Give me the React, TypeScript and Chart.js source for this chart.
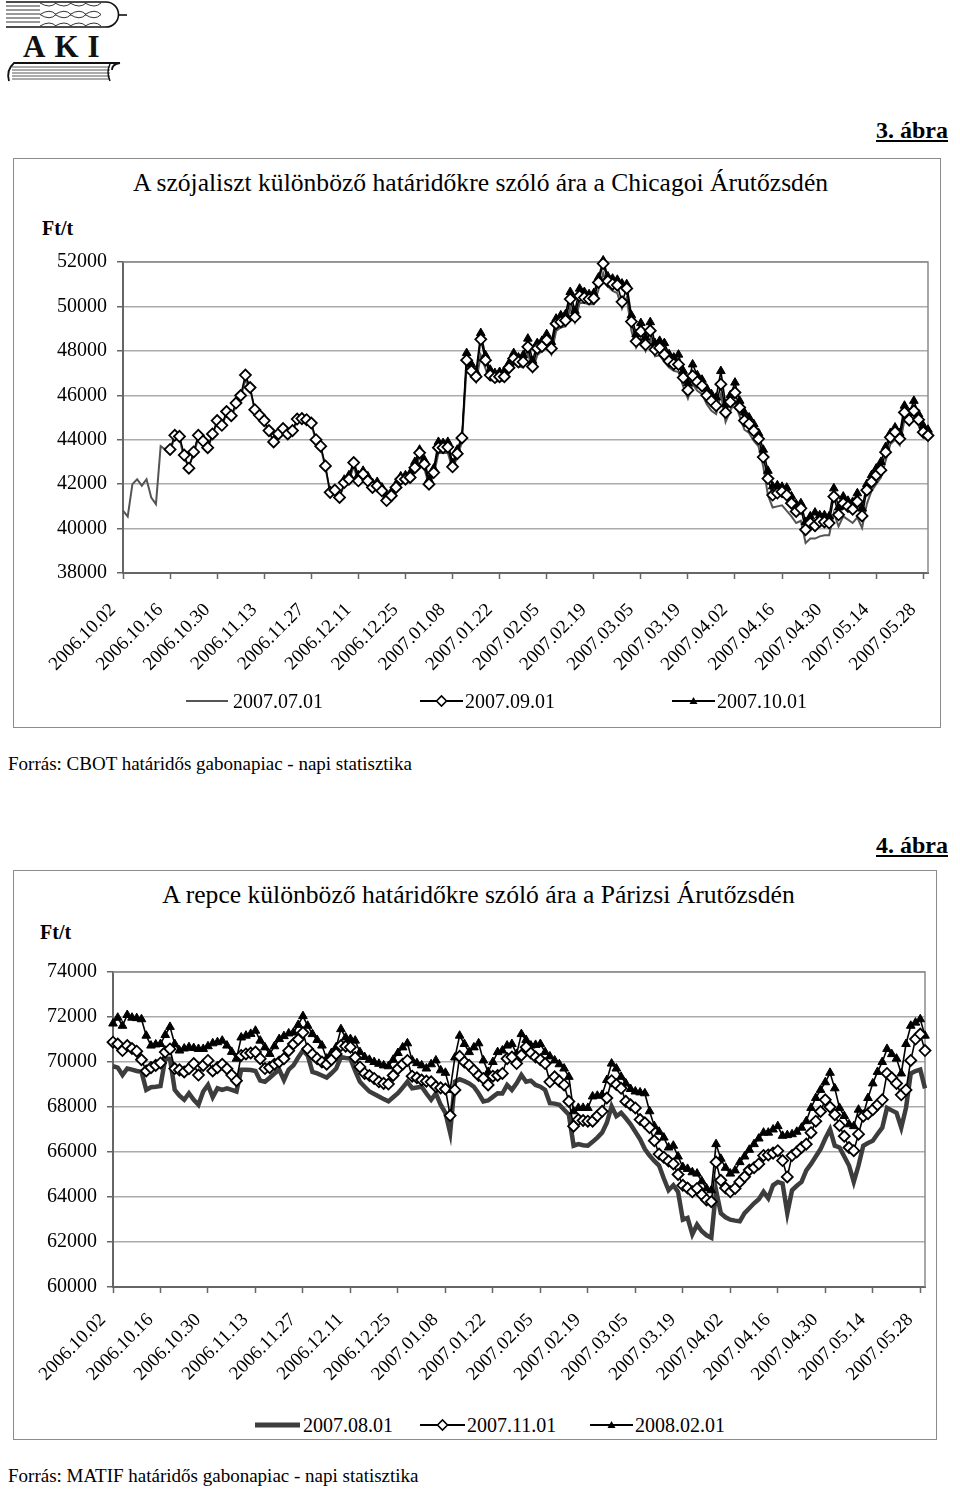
import React, { useEffect, useRef } from 'react';
import { Chart, registerables } from 'chart.js';

Chart.register(...registerables);

const SERIF = "'Liberation Serif', 'Times New Roman', Times, serif";

// ---------------- data ----------------
const TICK_LABELS = [
  '2006.10.02', '2006.10.16', '2006.10.30', '2006.11.13', '2006.11.27', '2006.12.11',
  '2006.12.25', '2007.01.08', '2007.01.22', '2007.02.05', '2007.02.19', '2007.03.05',
  '2007.03.19', '2007.04.02', '2007.04.16', '2007.04.30', '2007.05.14', '2007.05.28',
];
const FIRST_DAY = '2006-10-02';
const N_DAYS = 172;

// Chart 1: soybean meal, CBOT (Ft/t)
const SOY_NAMES = ['2007.07.01', '2007.09.01', '2007.10.01'];
const SOY_0701 = [
  40810, 40540, 42000, 42220, 41930, 42220, 41400, 41100, 43710, 43560,
  43500, 44100, 44100, 43100, 42850, 43300, 44100, 43900, 43600, 44200,
  44800, 44600, 45200, 45000, 45550, 45900, 46700, 46300, 45300, 45050,
  44800, 44350, 43950, 44200, 44450, 44200, 44350, 44850, 44900, 44850,
  44700, 43950, 43650, 42750, 41600, 41650, 41450, 41950, 42150, 42800,
  42100, 42350, 42050, 41800, 41850, 41650, 41300, 41400, 41750, 42100,
  42150, 42200, 42600, 43250, 42700, 41950, 42400, 43400, 43400, 43400,
  42700, 43200, 43900, 47300, 46900, 46600, 47800, 47200, 46700, 46600,
  46650, 46650, 47000, 47400, 47300, 47250, 47900, 47100, 47800, 48000,
  48250, 47850, 48900, 49050, 49100, 49950, 49300, 50150, 50150, 50100,
  50100, 50750, 51500, 50900, 50700, 50600, 49900, 50400, 48900, 48150,
  48550, 48000, 48550, 47750, 47800, 47500, 47250, 47100, 47050, 46400,
  45850, 46500, 46200, 46050, 45600, 45300, 45150, 46050, 44800, 45300,
  45700, 45050, 44450, 44300, 43950, 43700, 42800, 41500, 40950, 41000,
  41050, 40800, 40550, 40250, 40350, 39350, 39550, 39550, 39650, 39700,
  39700, 40700, 40100, 40550, 40400, 40250, 40500, 40030, 41100, 41700,
  42000, 42300, 43050, 43800, 44000, 43750, 44900, 44650, 45000, 44650,
  44100, 44000,
];
const SOY_0901 = [
  null, null, null, null, null, null, null, null, null, null,
  43560, 44200, 44150, 43310, 42720, 43450, 44200, 43940, 43640, 44260,
  44860, 44650, 45270, 45080, 45650, 45990, 46910, 46350, 45350, 45100,
  44860, 44410, 43900, 44260, 44500, 44260, 44410, 44930, 44950, 44900,
  44750, 44000, 43710, 42820, 41630, 41730, 41400, 42070, 42220, 42970,
  42150, 42450, 42150, 41850, 41920, 41700, 41260, 41480, 41850, 42220,
  42220, 42300, 42740, 43410, 42900, 42000, 42520, 43640, 43640, 43670,
  42780, 43370, 44080, 47580, 47100, 46840, 48520, 47580, 46910, 46800,
  46840, 46840, 47240, 47660, 47500, 47500, 48180, 47290, 48110, 48200,
  48480, 48110, 49220, 49300, 49370, 50330, 49520, 50480, 50400, 50330,
  50360, 51080, 51930, 51140, 51000, 50960, 50210, 50810, 49320, 48430,
  48880, 48280, 48910, 48060, 48130, 47830, 47540, 47400, 47390, 46800,
  46230, 46870, 46600, 46420, 46000, 45750, 45530, 46500, 45230, 45700,
  46120, 45450, 44860, 44710, 44400, 44040, 43220, 42250, 41510, 41600,
  41660, 41510, 41140, 40770, 40910, 39950, 40250, 40130, 40320, 40300,
  40250, 41440, 40620, 41140, 41000, 40870, 41210, 40570, 41730, 42100,
  42400, 42630, 43440, 44110, 44340, 44040, 45230, 44890, 45300, 44900,
  44340, 44190,
];
const SOY_1001 = [
  null, null, null, null, null, null, null, null, null, null,
  null, null, null, null, null, null, null, null, null, null,
  null, null, null, null, null, null, null, null, null, null,
  null, null, null, null, null, null, null, null, null, null,
  null, null, null, null, null, null, null, 42200, 42400, 43000,
  42400, 42600, 42350, 42050, 42100, 41850, 41450, 41650, 42000, 42350,
  42400, 42500, 43000, 43550, 43100, 42200, 42700, 43900, 43850, 43900,
  42950, 43550, 44150, 47900, 47400, 47050, 48800, 47800, 47150, 47000,
  47050, 47100, 47450, 47900, 47700, 47800, 48550, 47550, 48350, 48450,
  48750, 48400, 49450, 49600, 49650, 50650, 49800, 50800, 50650, 50550,
  50600, 51300, 52070, 51350, 51250, 51200, 51030, 51000, 49600, 48750,
  49250, 48600, 49290, 48350, 48450, 48350, 47850, 47700, 47830, 47100,
  46550, 47390, 46900, 46700, 46300, 46050, 45900, 47090, 45600, 46000,
  46570, 45750, 45230, 45000, 44700, 44300, 43550, 42600, 41900, 41950,
  41880, 41840, 41450, 41100, 41140, 40300, 40550, 40720, 40600, 40600,
  40550, 41810, 40950, 41440, 41250, 41200, 41590, 40900, 42000, 42400,
  42700, 43000, 43670, 44300, 44550, 44300, 45530, 45200, 45750, 45150,
  44630, 44450,
];

// Chart 2: rapeseed, MATIF (Ft/t)
const RAPE_NAMES = ['2007.08.01', '2007.11.01', '2008.02.01'];
const RAPE_0801 = [
  69810, 69750, 69420, 69710, 69660, 69600, 69560, 68760, 68880, 68900,
  68930, 70150, 70150, 68760, 68500, 68320, 68610, 68320, 68100, 68690,
  68980, 68440, 68830, 68760, 68830, 68760, 68690, 69660, 69660, 69640,
  69600, 69170, 69120, 69300, 69490, 69660, 69200, 69660, 69850, 70200,
  70510, 70290, 69560, 69490, 69400, 69310, 69500, 69710, 70220, 70180,
  70150, 69600, 69120, 68900, 68690, 68580, 68470, 68350, 68250, 68430,
  68610, 68860, 69120, 68830, 68870, 68900, 68600, 68320, 68610, 68100,
  67740, 66860, 69120, 69230, 69150, 69050, 68900, 68600, 68250, 68290,
  68450, 68610, 68600, 68980, 68760, 69050, 69420, 69120, 69170, 68980,
  68900, 68760, 68170, 68150, 68100, 67880, 67660, 66280, 66350, 66300,
  66280, 66450, 66640, 66860, 67300, 68030, 67590, 67740, 67500, 67230,
  66900, 66570, 66130, 65840, 65600, 65400, 64820, 64300, 64520, 64230,
  62990, 63070, 62340, 62770, 62480, 62300, 62190, 64300, 63280, 63100,
  62990, 62950, 62920, 63280, 63500, 63720, 63900, 64230, 63940, 64520,
  64670, 64600, 63280, 64300, 64500, 64670, 65180, 65470, 65800, 66130,
  66600, 67010, 66280, 66200, 65800, 65400, 64670, 65400, 66280, 66400,
  66500, 66800, 67080, 67960, 67850, 67740, 67080, 67960, 69490, 69600,
  69660, 68830,
];
const RAPE_1101 = [
  70880, 70800, 70510, 70730, 70600, 70480, 70100, 69600, 69750, 69850,
  69960, 70440, 70580, 69710, 69650, 69560, 69700, 69930, 69420, 69850,
  70070, 69600, 69750, 69900, 69700, 69420, 69170, 70290, 70360, 70400,
  70440, 70150, 69710, 69750, 69900, 70000, 70150, 70500, 70800, 71000,
  71310, 70580, 70340, 70150, 70000, 69900, 70100, 70360, 70730, 70700,
  70660, 70200, 69780, 69490, 69400, 69270, 69120, 69050, 69020, 69400,
  69700, 69900, 70070, 69370, 69300, 69200, 69150, 69120, 68900, 68850,
  68800, 67620, 68760, 70250, 70000, 69850, 69630, 69400, 69270, 68980,
  69370, 69400, 69490, 70150, 70220, 69930, 70300, 70660, 70400, 70220,
  70100, 69930, 69120, 69340, 69150, 68980, 68250, 67150, 67440, 67400,
  67370, 67370, 67600, 67810, 68400, 69170, 69000, 68830, 68250, 68100,
  67960, 67440, 67300, 67080, 66500, 65910, 65770, 65600, 65470, 65000,
  64520, 64400, 64230, 64380, 64100, 63870, 63790, 65550, 64740, 64400,
  64230, 64380, 64670, 64900, 65200, 65300, 65470, 65840, 65870, 65950,
  66060, 65620, 64890, 65840, 66000, 66200, 66350, 66860, 67370, 67800,
  68320, 68000, 67660, 67180, 66700, 66200, 66060, 66790, 67590, 67700,
  67880, 68100, 68320, 69490, 69300, 69050, 68540, 68760, 70070, 71020,
  71240, 70510,
];
const RAPE_0201 = [
  71710, 71970, 71610, 72090, 71970, 71950, 71900, 71170, 70730, 70780,
  70800, 71200, 71560, 70800, 70510, 70600, 70660, 70620, 70580, 70580,
  70700, 70830, 70880, 70950, 70730, 70450, 70150, 71090, 71170, 71250,
  71390, 70950, 70650, 70360, 70700, 71020, 71150, 71270, 71310, 71650,
  72040, 71610, 71240, 70980, 70730, 70150, 70400, 70660, 71460, 71090,
  71020, 70950, 70440, 70220, 70100, 70000, 69920, 69850, 69810, 70100,
  70400, 70650, 70830, 70070, 69950, 69850, 69710, 69900, 70070, 69630,
  69520, 68760, 70200, 71170, 70800, 70440, 70650, 70830, 70070, 69560,
  70000, 70440, 70510, 70730, 70800, 70360, 71240, 70980, 70730, 70760,
  70800, 70440, 70250, 70070, 69900, 69710, 69340, 67810, 67960, 67960,
  67960, 68470, 68500, 68540, 69200, 69930, 69710, 69340, 69050, 68800,
  68690, 68650, 68610, 67810, 67150, 66900, 66640, 66200, 66280, 65800,
  65330, 65250, 65100, 65040, 64700, 64380, 64300, 66350, 65700, 65300,
  65040, 65180, 65550, 65800, 66100, 66350, 66600, 66860, 66860, 67000,
  67150, 66720, 66750, 66790, 66900, 67080, 67370, 67960, 68400, 68760,
  69100, 69520, 68830, 67960, 67600, 67230, 67150, 67880, 67660, 68400,
  69050, 69560, 70000, 70580, 70350, 70150, 69490, 70800, 71610, 71750,
  71900, 71170,
];

// ---------------- helpers ----------------
function tradingDays(startISO: string, count: number): string[] {
  const days: string[] = [];
  const d = new Date(startISO + 'T00:00:00Z');
  while (days.length < count) {
    const wd = d.getUTCDay();
    if (wd >= 1 && wd <= 5) {
      const m = String(d.getUTCMonth() + 1).padStart(2, '0');
      const dd = String(d.getUTCDate()).padStart(2, '0');
      days.push(`${d.getUTCFullYear()}.${m}.${dd}`);
    }
    d.setUTCDate(d.getUTCDate() + 1);
  }
  return days;
}
const CATEGORIES = tradingDays(FIRST_DAY, N_DAYS);

type Kind = 'plain' | 'thick' | 'diamond' | 'triangle';

function dataset(label: string, data: (number | null)[], kind: Kind) {
  const base: any = { label, data, tension: 0, clip: false, spanGaps: false };
  if (kind === 'plain') return { ...base, borderColor: '#555555', borderWidth: 2, pointRadius: 0, order: 3 };
  if (kind === 'thick') return { ...base, borderColor: '#3d3d3d', borderWidth: 4.5, pointRadius: 0, order: 3 };
  if (kind === 'diamond')
    return {
      ...base, borderColor: '#000', borderWidth: 1.6, pointStyle: 'rectRot', pointRadius: 5.5,
      pointBackgroundColor: '#fff', pointBorderColor: '#000', pointBorderWidth: 1.8, order: 1,
    };
  return {
    ...base, borderColor: '#000', borderWidth: 1.6, pointStyle: 'triangle', pointRadius: 5,
    pointBackgroundColor: '#000', pointBorderColor: '#000', pointBorderWidth: 1, order: 2,
  };
}

const plotFrame = {
  id: 'plotFrame',
  beforeDatasetsDraw(chart: any) {
    const { ctx, chartArea: a } = chart;
    ctx.save();
    ctx.strokeStyle = '#8a8a8a';
    ctx.lineWidth = 1.5;
    ctx.beginPath();
    ctx.moveTo(a.left, a.top);
    ctx.lineTo(a.right, a.top);
    ctx.lineTo(a.right, a.bottom);
    ctx.stroke();
    ctx.restore();
  },
};

function buildConfig(p: {
  datasets: any[]; yMin: number; yMax: number; yWidth: number; xHeight: number;
  padTop: number; padRight: number; xLabelPad: number;
}): any {
  return {
    type: 'line',
    data: { labels: CATEGORIES, datasets: p.datasets },
    plugins: [plotFrame],
    options: {
      responsive: false,
      animation: false,
      events: [],
      layout: { padding: { top: p.padTop, right: p.padRight, left: 0, bottom: 0 } },
      plugins: { legend: { display: false }, tooltip: { enabled: false }, title: { display: false } },
      scales: {
        x: {
          type: 'category',
          offset: false,
          grid: { drawOnChartArea: false, drawTicks: true, tickLength: 6, color: '#666', tickColor: '#666', tickWidth: 1.5 },
          border: { color: '#666', width: 2 },
          ticks: {
            autoSkip: false, minRotation: 45, maxRotation: 45, color: '#000',
            padding: p.xLabelPad, labelOffset: -10,
            font: { family: SERIF, size: 19 },
            callback: (_v: any, i: number) => (i % 10 === 0 && TICK_LABELS[i / 10] ? TICK_LABELS[i / 10] : null),
          },
          afterFit: (s: any) => { s.height = p.xHeight; },
        },
        y: {
          min: p.yMin,
          max: p.yMax,
          grid: { color: '#ababab', lineWidth: 1.5, tickLength: 6, tickColor: '#666', tickWidth: 1.5 },
          border: { color: '#666', width: 2 },
          ticks: {
            stepSize: 2000, color: '#000', padding: 10,
            font: { family: SERIF, size: 20 },
            callback: (v: any) => String(v),
          },
          afterFit: (s: any) => { s.width = p.yWidth; },
        },
      },
    },
  };
}

function ChartCanvas({ config, left, top, width, height }: any) {
  const ref = useRef<HTMLCanvasElement>(null);
  useEffect(() => {
    const chart = new Chart(ref.current as HTMLCanvasElement, config);
    return () => chart.destroy();
  }, []);
  return (
    <canvas ref={ref} width={width} height={height}
      style={{ position: 'absolute', left, top, width, height }} />
  );
}

function Marker({ kind, cx, cy }: { kind: Kind; cx: number; cy: number }) {
  if (kind === 'diamond')
    return <path d={`M${cx - 5} ${cy} L${cx} ${cy - 5} L${cx + 5} ${cy} L${cx} ${cy + 5} Z`} fill="#fff" stroke="#000" strokeWidth={1.6} />;
  if (kind === 'triangle')
    return <path d={`M${cx - 4} ${cy + 3} L${cx} ${cy - 4} L${cx + 4} ${cy + 3} Z`} fill="#000" />;
  return null;
}

function LegendItem({ x1, x2, y, tx, kind, text }: any) {
  const w = x2 - x1;
  const color = kind === 'plain' ? '#555' : kind === 'thick' ? '#3d3d3d' : '#000';
  const lw = kind === 'thick' ? 5 : 2;
  return (
    <>
      <svg width={w} height={16} style={{ position: 'absolute', left: x1, top: y - 8 }}>
        <line x1={0} x2={w} y1={8} y2={8} stroke={color} strokeWidth={lw} />
        <Marker kind={kind} cx={w / 2} cy={8} />
      </svg>
      <div style={{ position: 'absolute', left: tx, top: y - 12, fontSize: 20, lineHeight: '24px', whiteSpace: 'nowrap' }}>{text}</div>
    </>
  );
}

function Logo() {
  const chevrons = [42, 57, 72, 87];
  return (
    <svg width={130} height={82} style={{ position: 'absolute', left: 0, top: 0 }}>
      <path d="M6 2 H106 A12.5 12.5 0 0 1 106 27 H6" fill="none" stroke="#111" strokeWidth={1.6} />
      {[6, 10, 14, 18, 22].map((y) => (
        <line key={y} x1={6} x2={40} y1={y} y2={y} stroke="#333" strokeWidth={1} />
      ))}
      {chevrons.map((cx) => (
        <path key={cx} d={`M${cx - 2} 3 Q${cx + 8} 9 ${cx + 14} 3 M${cx - 2} 14.5 Q${cx + 8} 8 ${cx + 14} 14.5 M${cx - 2} 14.5 Q${cx + 8} 21 ${cx + 14} 14.5 M${cx - 2} 26 Q${cx + 8} 20 ${cx + 14} 26`}
          fill="none" stroke="#333" strokeWidth={1} />
      ))}
      <line x1={118} x2={127} y1={15} y2={15} stroke="#111" strokeWidth={1.6} />
      <text x={23} y={57} fontFamily={SERIF} fontWeight="bold" fontSize={31} letterSpacing={9} fill="#111">AKI</text>
      <path d="M9 81 Q6 70 14 63 H120 Q112 64 112 70" fill="none" stroke="#111" strokeWidth={1.8} />
      {[67, 70, 73, 76, 79].map((y) => (
        <line key={y} x1={12} x2={110} y1={y} y2={y} stroke="#444" strokeWidth={0.9} />
      ))}
      <path d="M110 64 Q106 72 110 81" fill="none" stroke="#111" strokeWidth={1.5} />
    </svg>
  );
}

export default function App() {
  const soyConfig = buildConfig({
    datasets: [
      dataset(SOY_NAMES[0], SOY_0701, 'plain'),
      dataset(SOY_NAMES[1], SOY_0901, 'diamond'),
      dataset(SOY_NAMES[2], SOY_1001, 'triangle'),
    ],
    yMin: 38000, yMax: 52000, yWidth: 123, xHeight: 127, padTop: 19, padRight: 32, xLabelPad: 20,
  });
  const rapeConfig = buildConfig({
    datasets: [
      dataset(RAPE_NAMES[0], RAPE_0801, 'thick'),
      dataset(RAPE_NAMES[1], RAPE_1101, 'diamond'),
      dataset(RAPE_NAMES[2], RAPE_0201, 'triangle'),
    ],
    yMin: 60000, yMax: 74000, yWidth: 113, xHeight: 123, padTop: 17, padRight: 35, xLabelPad: 16,
  });

  const txt: React.CSSProperties = { position: 'absolute', whiteSpace: 'nowrap' };

  return (
    <div style={{ position: 'absolute', left: 0, top: 0, width: 960, height: 1491, background: '#fff', color: '#000', fontFamily: SERIF, overflow: 'hidden' }}>
      <Logo />

      {/* Figure 3 */}
      <div style={{ ...txt, right: 12, top: 116, fontSize: 24, lineHeight: '28px', fontWeight: 'bold', textDecoration: 'underline' }}>3. ábra</div>
      <div style={{ position: 'absolute', left: 13, top: 158, width: 926, height: 568, border: '1.5px solid #8c8c8c' }} />
      <div style={{ ...txt, left: 480.5, top: 168, transform: 'translateX(-50%)', fontSize: 25.6, lineHeight: '30px' }}>A szójaliszt különböző határidőkre szóló ára a Chicagoi Árutőzsdén</div>
      <div style={{ ...txt, left: 42, top: 216, fontSize: 20, lineHeight: '24px', fontWeight: 'bold' }}>Ft/t</div>
      <ChartCanvas config={soyConfig} left={0} top={240} width={960} height={460} />
      <LegendItem x1={186} x2={228} y={701} tx={233} kind="plain" text={SOY_NAMES[0]} />
      <LegendItem x1={420} x2={463} y={701} tx={465} kind="diamond" text={SOY_NAMES[1]} />
      <LegendItem x1={672} x2={715} y={701} tx={717} kind="triangle" text={SOY_NAMES[2]} />
      <div style={{ ...txt, left: 8, top: 752, fontSize: 19, lineHeight: '24px' }}>Forrás: CBOT határidős gabonapiac - napi statisztika</div>

      {/* Figure 4 */}
      <div style={{ ...txt, right: 12, top: 831, fontSize: 24, lineHeight: '28px', fontWeight: 'bold', textDecoration: 'underline' }}>4. ábra</div>
      <div style={{ position: 'absolute', left: 13, top: 870, width: 922, height: 568, border: '1.5px solid #8c8c8c' }} />
      <div style={{ ...txt, left: 478.5, top: 880, transform: 'translateX(-50%)', fontSize: 25.6, lineHeight: '30px' }}>A repce különböző határidőkre szóló ára a Párizsi Árutőzsdén</div>
      <div style={{ ...txt, left: 40, top: 920, fontSize: 20, lineHeight: '24px', fontWeight: 'bold' }}>Ft/t</div>
      <ChartCanvas config={rapeConfig} left={0} top={950} width={960} height={460} />
      <LegendItem x1={255} x2={300} y={1425} tx={303} kind="thick" text={RAPE_NAMES[0]} />
      <LegendItem x1={420} x2={465} y={1425} tx={467} kind="diamond" text={RAPE_NAMES[1]} />
      <LegendItem x1={590} x2={633} y={1425} tx={635} kind="triangle" text={RAPE_NAMES[2]} />
      <div style={{ ...txt, left: 8, top: 1464, fontSize: 19, lineHeight: '24px' }}>Forrás: MATIF határidős gabonapiac - napi statisztika</div>
    </div>
  );
}
